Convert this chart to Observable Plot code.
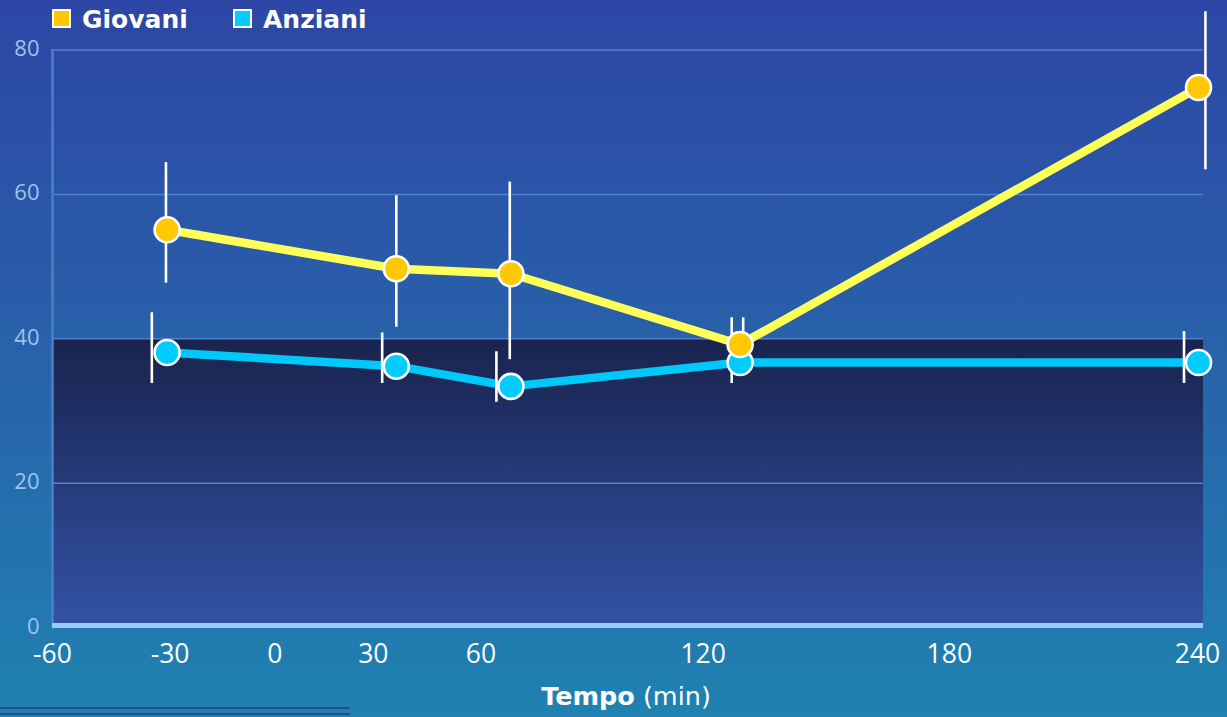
<!DOCTYPE html>
<html><head><meta charset="utf-8">
<script src="https://cdn.jsdelivr.net/npm/d3@7"></script>
<script src="https://cdn.jsdelivr.net/npm/@observablehq/plot@0.6"></script>
<style>
html,body{margin:0;padding:0;background:#2466aa;}
#wrap{position:relative;width:1227px;height:717px;overflow:hidden;
  background:linear-gradient(180deg,#2d46a5 0%,#2862aa 50%,#1f82b1 100%);
  font-family:"DejaVu Sans",sans-serif;}
#wrap svg{position:absolute;left:0;top:0;}
.leg{position:absolute;top:3px;color:#fff;font-weight:bold;font-size:25px;line-height:34px;white-space:nowrap;}
.sw{position:absolute;top:9px;width:15px;height:15px;border:2px solid #fff;}
#xt{position:absolute;left:0;width:1252px;top:679px;text-align:center;color:#fff;font-size:25.5px;line-height:34px;}
.deco{position:absolute;left:0;width:350px;height:2px;background:#284c8c;}
</style></head><body><div id="wrap"></div>
<script>
const seriesNames = ["Giovani", "Anziani"];
const times = [-30, 30, 60, 120, 240];
const giovani = [55.1, 49.7, 49.0, 39.2, 74.8];
const giovaniLow = [47.7, 41.6, 37.1, 36.3, 63.4];
const giovaniHigh = [64.4, 59.8, 61.7, 42.9, 85.3];
const giovaniBarTime = [-30.3, 30, 59.7, 120.8, 241.8];
const anziani = [38.1, 36.2, 33.4, 36.7, 36.7];
const anzianiLow = [33.8, 33.8, 31.2, 33.8, 33.8];
const anzianiHigh = [43.6, 40.8, 38.2, 42.9, 41.0];
const anzianiBarTime = [-34, 26.3, 56.2, 117.8, 236.2];
const xTicks = [-60, -30, 0, 30, 60, 120, 180, 240];
const yTicks = [0, 20, 40, 60, 80];
const band = [{lo: 0, hi: 40}];

// styling: horizontal nudges (px) of the x tick labels, as placed in the original chart
const xLabelNudge = [0, 3, -7, -23, -30, -37, -20, -1];

const gData = times.map((t, i) => ({t, v: giovani[i], lo: giovaniLow[i], hi: giovaniHigh[i], bt: giovaniBarTime[i]}));
const aData = times.map((t, i) => ({t, v: anziani[i], lo: anzianiLow[i], hi: anzianiHigh[i], bt: anzianiBarTime[i]}));

const gLine = "#ffff5a", gDot = "#ffc800";
const aLine = "#00c8f8", aDot = "#00ccff";

const xAxes = xTicks.map((t, i) => Plot.axisX([t], {
  tickSize: 0, tickPadding: 17, fontSize: 26.5, fill: "#ffffff", label: null,
  dx: xLabelNudge[i], tickFormat: d => String(d)
}));

const plot = Plot.plot({
  width: 1227, height: 717,
  marginLeft: 52, marginRight: 24, marginTop: 49.5, marginBottom: 90,
  style: {background: "transparent", fontFamily: "'Open Sans', sans-serif", overflow: "visible"},
  x: {domain: [-60, 241.3], ticks: xTicks},
  y: {domain: [0, 80], ticks: yTicks},
  marks: [
    Plot.rect(band, {y1: "lo", y2: "hi", fill: "url(#lowband)"}),
    Plot.gridY(yTicks.slice(1), {stroke: "#4d84cf", strokeOpacity: 1, strokeWidth: 1.5}),
    Plot.frame({anchor: "left", stroke: "#4a80c8", strokeWidth: 2.5}),
    Plot.ruleY([0], {stroke: "#9ecbff", strokeWidth: 5, dy: -2}),
    ...xAxes,
    Plot.axisY({ticks: yTicks, tickSize: 0, tickPadding: 13, fontSize: 22, fill: "#9fc3ec", label: null, dy: -1}),
    Plot.line(aData, {x: "t", y: "v", stroke: aLine, strokeWidth: 8.5}),
    Plot.line(gData, {x: "t", y: "v", stroke: gLine, strokeWidth: 8.5}),
    Plot.ruleX(aData, {x: "bt", y1: "lo", y2: "hi", stroke: "#ffffff", strokeWidth: 2.6}),
    Plot.ruleX(gData, {x: "bt", y1: "lo", y2: "hi", stroke: "#ffffff", strokeWidth: 2.6}),
    Plot.dot(aData, {x: "t", y: "v", r: 12.5, fill: aDot, stroke: "#ffffff", strokeWidth: 2.6}),
    Plot.dot(gData, {x: "t", y: "v", r: 12.5, fill: gDot, stroke: "#ffffff", strokeWidth: 2.6})
  ]
});

const defs = d3.select(plot).insert("defs", ":first-child");
const lg = defs.append("linearGradient").attr("id", "lowband")
  .attr("x1", 0).attr("y1", 0).attr("x2", 0).attr("y2", 1);
lg.append("stop").attr("offset", "0%").attr("stop-color", "#19234d");
lg.append("stop").attr("offset", "100%").attr("stop-color", "#3353a6");

const wrap = document.getElementById("wrap");
wrap.appendChild(plot);

const colors = [gDot, aDot];
const legX = [52, 233];
seriesNames.forEach((name, i) => {
  const sw = document.createElement("div");
  sw.className = "sw";
  sw.style.left = legX[i] + "px";
  sw.style.background = colors[i];
  wrap.appendChild(sw);
  const t = document.createElement("div");
  t.className = "leg";
  t.style.left = (legX[i] + 30) + "px";
  t.textContent = name;
  wrap.appendChild(t);
});

const xt = document.createElement("div");
xt.id = "xt";
xt.innerHTML = "<b>Tempo</b> (min)";
wrap.appendChild(xt);

[707, 713].forEach(y => {
  const d = document.createElement("div");
  d.className = "deco";
  d.style.top = y + "px";
  wrap.appendChild(d);
});
</script>
</body></html>
